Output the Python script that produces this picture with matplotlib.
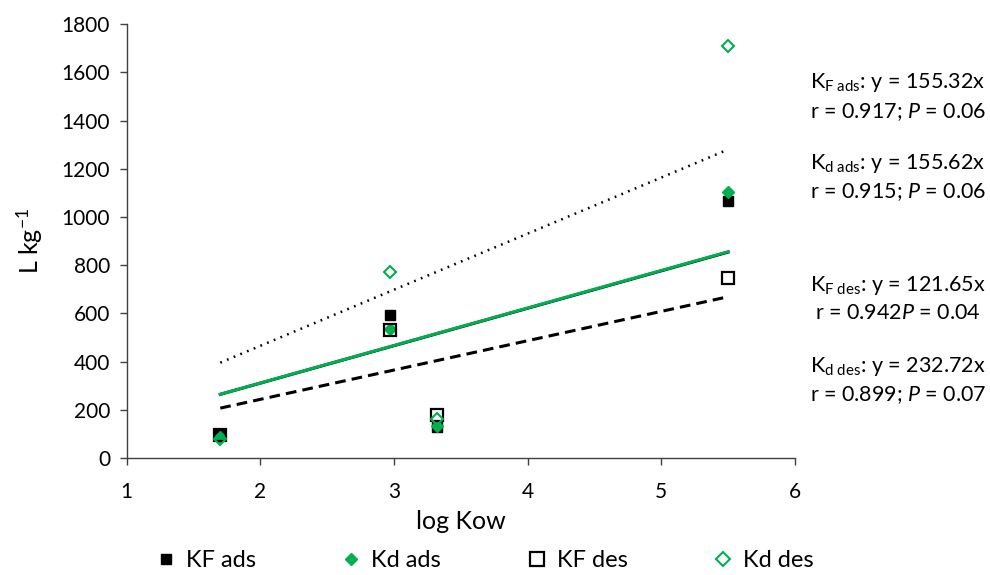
import numpy as np
import matplotlib.pyplot as plt

plt.rcParams['font.family'] = ['Lato', 'DejaVu Sans']
plt.rcParams['mathtext.fontset'] = 'custom'
plt.rcParams['mathtext.rm'] = 'Lato'
plt.rcParams['mathtext.it'] = 'Lato:italic'

# data
log_kow = [1.70, 2.97, 3.32, 5.50]
kf_ads = [95, 593, 130, 1067]
kd_ads = [86, 535, 133, 1104]
kf_des = [97, 531, 178, 748]
kd_des = [78, 771, 162, 1708]

# trendline slopes (y = a*x), shown in the annotations
slope_kf_ads = 155.32
slope_kd_ads = 155.62
slope_kf_des = 121.65
slope_kd_des = 232.72

green = '#00B050'

fig = plt.figure(figsize=(9.9, 5.75), dpi=100)
ax = fig.add_axes([0.128, 0.2035, 0.675, 0.7545])

# trendlines over the data range
xt = np.array([min(log_kow), max(log_kow)])
ax.plot(xt, slope_kf_ads * xt, color='black', lw=2.2, zorder=2)
ax.plot(xt, slope_kd_ads * xt, color=green, lw=2.2, zorder=2)
ax.plot(xt, slope_kf_des * xt, color='black', lw=2.2, ls=(0, (3.5, 2)), zorder=2)
ax.plot(xt, slope_kd_des * xt, color='black', lw=1.8, ls=(0, (0.7, 2.2)), zorder=2)

# points
ax.plot(log_kow, kf_ads, 's', color='black', ms=7, label='KF ads', zorder=3)
ax.plot(log_kow, kd_ads, 'D', color=green, ms=6, label='Kd ads', zorder=3)
ax.plot(log_kow, kf_des, 's', mfc='none', mec='black', mew=1.6, ms=9, label='KF des', zorder=3)
ax.plot(log_kow, kd_des, 'D', mfc='none', mec=green, mew=1.5, ms=6.5, label='Kd des', zorder=3)

ax.set_xlim(1, 6)
ax.set_ylim(0, 1800)
ax.set_xticks(range(1, 7))
ax.set_yticks(range(0, 1801, 200))
ax.tick_params(labelsize=15, direction='out', length=5, width=1, color='#404040')
ax.tick_params(axis='x', pad=12)
ax.tick_params(axis='y', pad=7)
for s in ['top', 'right']:
    ax.spines[s].set_visible(False)
for s in ['left', 'bottom']:
    ax.spines[s].set_color('#404040')
    ax.spines[s].set_linewidth(1)

ax.set_xlabel('log Kow', fontsize=18, labelpad=6)
ax.set_ylabel('L kg$^{-1}$', fontsize=18, labelpad=12)

fig.legend(loc='center', bbox_to_anchor=(0.49, 0.025), ncol=4, frameon=False,
           fontsize=17, handletextpad=0.45, columnspacing=3.65, markerscale=1.1,
           handlelength=0.8, borderpad=0)

# equation annotations
fs = 15.5
fig.text(0.907, 0.856, r'K$_{\mathrm{F\ ads}}$: y = 155.32x', fontsize=fs, ha='center', va='center')
fig.text(0.907, 0.805, r'r = 0.917; $\mathit{P}$ = 0.06', fontsize=fs, ha='center', va='center')
fig.text(0.907, 0.716, r'K$_{\mathrm{d\ ads}}$: y = 155.62x', fontsize=fs, ha='center', va='center')
fig.text(0.907, 0.666, r'r = 0.915; $\mathit{P}$ = 0.06', fontsize=fs, ha='center', va='center')
fig.text(0.907, 0.504, r'K$_{\mathrm{F\ des}}$: y = 121.65x', fontsize=fs, ha='center', va='center')
fig.text(0.907, 0.455, r'r = 0.942$\mathit{P}$ = 0.04', fontsize=fs, ha='center', va='center')
fig.text(0.907, 0.362, r'K$_{\mathrm{d\ des}}$: y = 232.72x', fontsize=fs, ha='center', va='center')
fig.text(0.907, 0.313, r'r = 0.899; $\mathit{P}$ = 0.07', fontsize=fs, ha='center', va='center')

fig.savefig('out.png', dpi=100)
